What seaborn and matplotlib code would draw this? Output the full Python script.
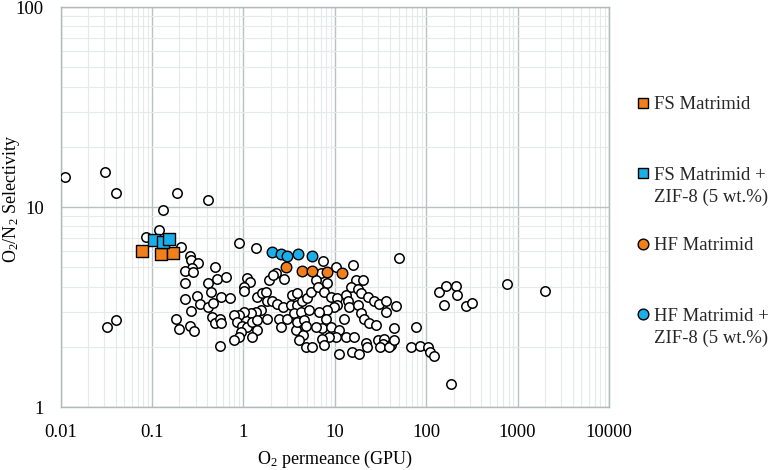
import matplotlib
matplotlib.use("Agg")
import matplotlib.pyplot as plt
import seaborn as sns
import pandas as pd
from matplotlib.ticker import FixedLocator, FixedFormatter, LogLocator, NullFormatter
from matplotlib.lines import Line2D

# ---------------- data ----------------
lit_x = [0.0112, 0.031, 0.040, 0.186, 0.41, 0.133, 0.119, 0.086, 0.206, 0.26, 0.265, 0.32, 0.276, 0.233,
         0.283, 0.49, 0.228, 0.41, 0.446, 0.31, 0.228, 0.335, 0.41, 0.46, 0.27, 0.183, 0.26, 0.20, 0.288,
         0.457, 0.485, 0.555, 0.040, 0.032, 0.52, 0.57,
         0.90, 1.36, 2.26, 2.79, 0.64, 0.71, 0.56, 0.57, 1.11, 1.18, 1.02, 1.02, 1.42, 1.61, 1.76, 1.83,
         2.08, 2.36, 2.75, 3.44, 3.30, 3.91, 4.33, 4.95, 5.47, 1.91, 2.13, 1.83, 1.55, 1.36, 1.20, 1.02,
         0.90, 0.79, 0.86, 0.97, 1.11, 1.25, 1.42, 1.42, 1.25, 0.94, 0.90, 0.79, 2.46, 2.57, 3.03, 3.75,
         4.44, 4.07, 3.60, 4.25, 5.25, 3.91, 4.62, 4.83, 3.85,
         7.5, 10.3, 15.7, 51, 7.05, 6.2, 8.3, 6.5, 7.7, 9.1, 10.7, 13.3, 17.1, 20.2, 15.0, 17.8, 19.4,
         22.9, 27.1, 30.8, 36.4, 46.9, 36.4, 13.8, 10.7, 9.9, 14.4, 17.8, 19.4, 12.7, 21.0, 23.9, 28.3,
         44.9, 77.6, 8.3, 6.76, 8.0, 7.3, 6.2, 9.1, 11.2, 13.3, 10.3, 8.7, 7.3, 16.4, 22.0, 29.5, 34.9,
         33.4, 41.3,
         11, 15.4, 18.2, 22.5, 31.6, 38.9, 44, 4.8, 5.7, 7.7,
         68, 86, 104, 109, 123, 185, 138, 166, 213, 217, 155, 270, 319, 773, 1987]
lit_y = [14.2, 14.9, 11.7, 11.7, 10.8, 9.7, 7.7, 7.1, 6.3, 5.7, 5.43, 5.27, 4.93, 4.8,
         4.75, 5.03, 4.15, 4.15, 3.77, 3.6, 3.47, 3.27, 3.15, 3.3, 3.03, 2.77, 2.54, 2.45, 2.41,
         2.83, 2.62, 2.03, 2.71, 2.52, 4.38, 3.56,
         6.6, 6.26, 4.66, 4.35, 4.49, 3.49, 2.77, 2.62, 4.40, 4.24, 4.0, 3.82, 3.56, 3.70, 3.77, 3.37,
         3.37, 3.27, 3.17, 3.63, 3.24, 3.24, 3.37, 3.49, 3.77, 4.32, 4.57, 2.77, 3.05, 3.0, 2.94, 3.0,
         2.88, 2.88, 2.67, 2.54, 2.52, 2.67, 2.72, 2.43, 2.25, 2.38, 2.23, 2.16, 2.77, 2.52, 2.74, 2.43,
         2.29, 2.16, 2.94, 3.0, 3.05, 2.67, 2.72, 2.54, 3.70,
         5.35, 5.03, 5.13, 5.58, 4.66, 4.32, 4.15, 4.0, 3.77, 3.56, 3.49, 3.63, 4.32, 4.32, 4.0, 3.87, 3.70,
         3.56, 3.37, 3.27, 3.37, 3.2, 3.0, 3.37, 3.24, 3.15, 3.15, 3.24, 2.94, 2.77, 2.77, 2.62, 2.57,
         2.47, 2.52, 3.05, 3.0, 2.77, 2.47, 2.52, 2.52, 2.43, 2.25, 2.25, 2.25, 2.2, 2.25, 2.08, 2.16, 2.2,
         2.07, 2.04,
         1.84, 1.89, 1.85, 2.0, 2.0, 2.0, 2.16, 2.0, 2.0, 2.04,
         2.0, 2.02, 1.99, 1.89, 1.80, 1.30, 3.77, 4.03, 4.03, 3.63, 3.24, 3.2, 3.3, 4.1, 3.8]

fs_x = [0.077, 0.125, 0.172]
fs_y = [6.05, 5.8, 5.89]
fszif_x = [0.105, 0.132, 0.153]
fszif_y = [6.8, 6.7, 6.9]
hf_x = [2.9, 4.4, 5.6, 8.2, 12.0]
hf_y = [5.0, 4.8, 4.8, 4.75, 4.7]
hfzif_x = [2.05, 2.6, 3.0, 4.0, 5.7]
hfzif_y = [5.95, 5.85, 5.7, 5.8, 5.7]

x_ticks = [0.01, 0.1, 1, 10, 100, 1000, 10000]
x_tick_labels = ["0.01", "0.1", "1", "10", "100", "1000", "10000"]
y_ticks = [1, 10, 100]
y_tick_labels = ["1", "10", "100"]

legend_labels = ["FS Matrimid", "FS Matrimid +", "HF Matrimid", "HF Matrimid +"]
legend_second_line = "ZIF-8 (5 wt.%)"

ORANGE = "#F07F1C"
BLUE = "#1AAFEA"

# ---------------- style ----------------
sns.set_theme(style="white")
plt.rcParams["font.family"] = ["Liberation Serif", "DejaVu Serif"]
plt.rcParams["mathtext.fontset"] = "custom"
plt.rcParams["mathtext.rm"] = "Liberation Serif"
plt.rcParams["mathtext.it"] = "Liberation Serif:italic"

FS = 13.5
LFS = 13.5
W, H = 773, 470
fig = plt.figure(figsize=(W / 100, H / 100), dpi=100)
L, R, T, B = 60.5, 609, 7, 407
ax = fig.add_axes([L / W, 1 - B / H, (R - L) / W, (B - T) / H])

lit = pd.DataFrame({"x": lit_x, "y": lit_y})
sns.scatterplot(data=lit, x="x", y="y", ax=ax, marker="o", s=46, color="white",
                edgecolor="black", linewidth=1.1, zorder=3, legend=False)
sns.scatterplot(x=fs_x, y=fs_y, ax=ax, marker="s", s=70, color=ORANGE,
                edgecolor="black", linewidth=1.0, zorder=4, legend=False)
sns.scatterplot(x=fszif_x, y=fszif_y, ax=ax, marker="s", s=70, color=BLUE,
                edgecolor="black", linewidth=1.0, zorder=4, legend=False)
sns.scatterplot(x=hf_x, y=hf_y, ax=ax, marker="o", s=58, color=ORANGE,
                edgecolor="black", linewidth=1.0, zorder=4, legend=False)
sns.scatterplot(x=hfzif_x, y=hfzif_y, ax=ax, marker="o", s=58, color=BLUE,
                edgecolor="black", linewidth=1.0, zorder=4, legend=False)

ax.set_xscale("log")
ax.set_yscale("log")
ax.set_xlim(0.01, 10000)
ax.set_ylim(1, 100)

ax.xaxis.set_major_locator(FixedLocator(x_ticks))
ax.xaxis.set_major_formatter(FixedFormatter(x_tick_labels))
ax.yaxis.set_major_locator(FixedLocator(y_ticks))
ax.yaxis.set_major_formatter(FixedFormatter(y_tick_labels))
ax.xaxis.set_minor_locator(LogLocator(base=10, subs=range(2, 10), numticks=100))
ax.yaxis.set_minor_locator(LogLocator(base=10, subs=range(2, 10), numticks=100))
ax.xaxis.set_minor_formatter(NullFormatter())
ax.yaxis.set_minor_formatter(NullFormatter())
ax.tick_params(which="both", length=0)
ax.tick_params(axis="x", which="major", pad=12, labelsize=FS, colors="black")
ax.tick_params(axis="y", which="major", pad=12, labelsize=FS, colors="black")

ax.set_axisbelow(True)
ax.grid(which="major", color="#b8c2c2", linewidth=1.0)
ax.grid(which="minor", color="#e4e9e9", linewidth=0.8)
for sp in ax.spines.values():
    sp.set_color("#b0baba")
    sp.set_linewidth(1.0)

ax.set_xlabel("O$_2$ permeance (GPU)", fontsize=13, color="black", labelpad=6)
ax.set_ylabel("O$_2$/N$_2$ Selectivity", fontsize=13, color="black")
ax.yaxis.set_label_coords((22 - L) / (R - L), (B - 199) / (B - T))

handles = [
    Line2D([], [], ls="none", marker="s", ms=7.7, mfc=ORANGE, mec="black", mew=1.0),
    Line2D([], [], ls="none", marker="s", ms=7.7, mfc=BLUE, mec="black", mew=1.0),
    Line2D([], [], ls="none", marker="o", ms=7.7, mfc=ORANGE, mec="black", mew=1.0),
    Line2D([], [], ls="none", marker="o", ms=7.7, mfc=BLUE, mec="black", mew=1.0),
]
fig.legend(handles, legend_labels, loc="upper left", bbox_to_anchor=(634 / W, 1 - 96 / H),
           frameon=False, fontsize=LFS, handlelength=1.0, handletextpad=0.04,
           labelspacing=2.85, borderpad=0, borderaxespad=0)
fig.text(653.5 / W, 1 - 197 / H, legend_second_line, fontsize=LFS, va="center", ha="left")
fig.text(653.5 / W, 1 - 338 / H, legend_second_line, fontsize=LFS, va="center", ha="left")

fig.savefig("out.png", dpi=100)
